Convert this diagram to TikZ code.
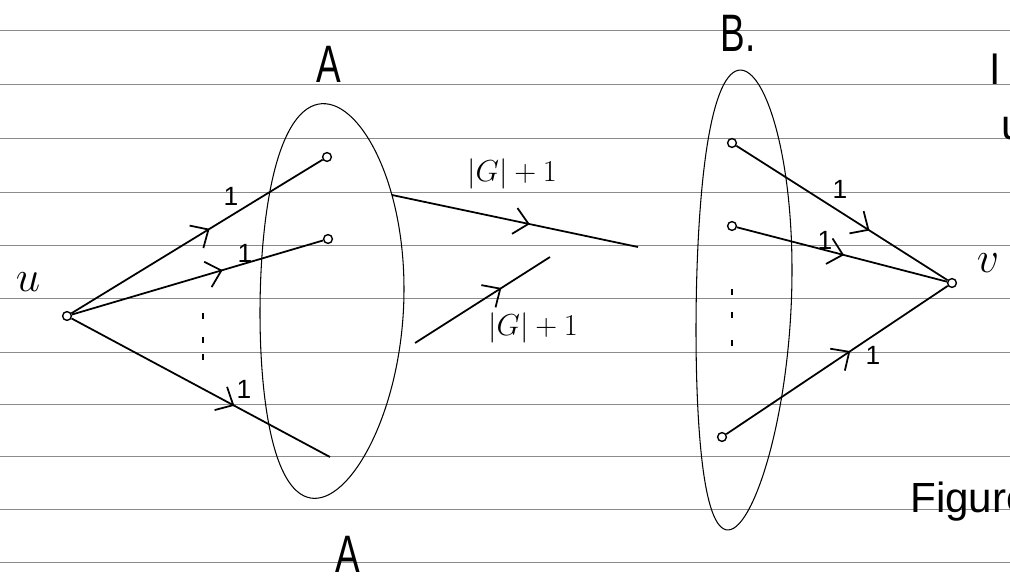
\documentclass[tikz,border=0pt]{standalone}
\usepackage{fontspec}
\setmainfont{Liberation Sans}
\usetikzlibrary{arrows.meta,decorations.markings}
\tikzset{
  rule/.style={black!45, line width=0.5pt},
  setline/.style={line width=0.6pt},
  edge/.style={line width=1pt},
  vtx/.style={circle,draw,line width=0.8pt,inner sep=0pt,minimum size=5pt},
  midarrow/.style={postaction={decorate},decoration={markings,mark=at position #1 with {\arrow[line width=1pt]{Straight Barb[length=8pt,width=15pt]}}}},
  one/.style={font=\fontsize{15}{18}\selectfont, inner sep=0pt},
  big/.style={font=\fontsize{18}{22}\selectfont, inner sep=0pt},
  setname/.style={font=\fontsize{30}{34}\selectfont, inner sep=0pt, xscale=0.7},
  vname/.style={font=\fontsize{24}{28}\selectfont, inner sep=0pt},
  edgetext/.style={font=\fontsize{24}{28}\selectfont, inner sep=0pt, anchor=base west},
  dotmark/.style={line width=0.8pt},
}
\begin{document}
\begin{tikzpicture}[x=0.02cm,y=-0.02cm]
\useasboundingbox (0,0) rectangle (1010,585);
\clip (0,0) rectangle (1010,585);
\fill[white] (0,0) rectangle (1010,585);
% ruled paper
\foreach \y in {30,84,138,192,245,298,352,404,456,509,562}
  \draw[rule] (0,\y) -- (1010,\y);
% set ellipses
\draw[setline] plot[domain=0:360, samples=120, smooth]
  ({332 + 72*cos(\x) - 13*sin(\x)*sin(\x)}, {301 + 197*sin(\x) - 12*cos(\x)}) -- cycle;
\draw[setline] plot[domain=0:360, samples=120, smooth]
  ({744 + 48*cos(\x) - 10*sin(\x)*sin(\x)}, {300 + 228*sin(\x) - 30*cos(\x)}) -- cycle;
% set names
\node[setname] (tA) at (329,64) {A};
\node[setname] (bA) at (348,554) {A};
\node[setname, xscale=1] (tB) at (738,33) {B.};
% vertices
\node[vtx] (u) at (67,316) {};
\node[vtx] (v) at (952,283) {};
\node[vtx] (a1) at (327,157) {};
\node[vtx] (a2) at (328,239) {};
\coordinate (a3) at (330,457);
\node[vtx] (b1) at (732,143) {};
\node[vtx] (b2) at (732,226) {};
\node[vtx] (b3) at (722,437) {};
\node[vname] (lu) at (28,282) {$u$};
\node[vname] (lv) at (988,263) {$v$};
% edges from u into A
\draw[edge, midarrow=0.55] (u) -- (a1);
\draw[edge, midarrow=0.6] (u) -- (a2);
\draw[edge, midarrow=0.63] (u) -- (a3);
\node[one] at (231,196) {1};
\node[one] at (245,253) {1};
\node[one] at (244,389) {1};
\foreach \y in {316,340,357} \draw[dotmark] (203,\y-3) -- (203,\y+3);
% edges from B to v
\draw[edge, midarrow=0.63] (b1) -- (v);
\draw[edge, midarrow=0.51] (b2) -- (v);
\draw[edge, midarrow=0.56] (b3) -- (v);
\node[one] at (840,189) {1};
\node[one] at (825,240) {1};
\node[one] at (873,355) {1};
\foreach \y in {292,315,343} \draw[dotmark] (732,\y-3) -- (732,\y+3);
% middle edges
\coordinate (m1s) at (392,195);
\coordinate (m1e) at (638,247);
\coordinate (m2s) at (415,343);
\coordinate (m2e) at (550,257);
\draw[edge, midarrow=0.56] (m1s) -- (m1e);
\draw[edge, midarrow=0.64] (m2s) -- (m2e);
\node[big] (g1) at (512,174) {$|G|+1$};
\node[big] (g2) at (533,328) {$|G|+1$};
% cut-off text at right margin (as in the reference)
\node[edgetext] (tl) at (990,84) {l};
\node[edgetext] (tu) at (1001,139) {u};
\node[edgetext] (fig) at (910,512) {Figure};
\end{tikzpicture}
\end{document}
